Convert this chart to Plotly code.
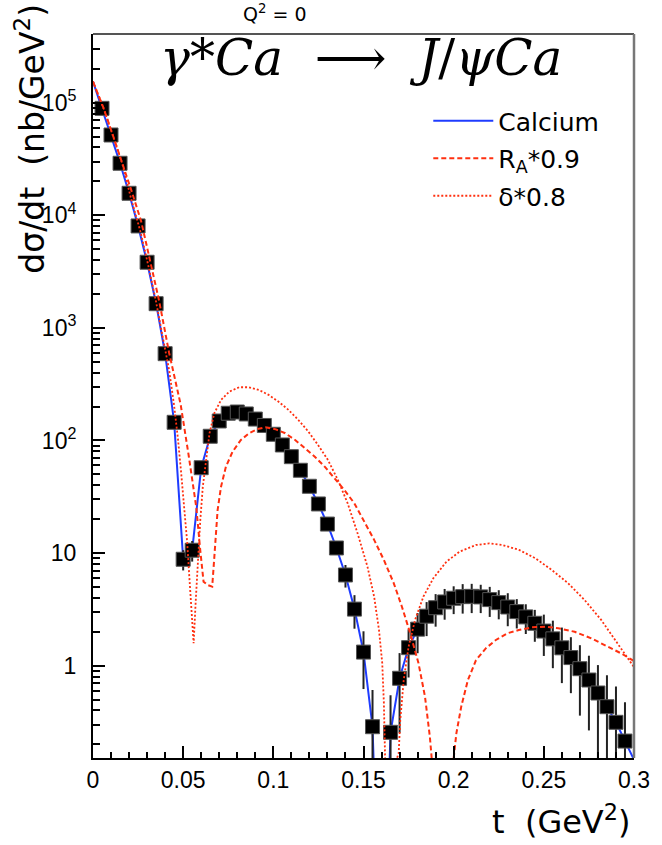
import plotly.graph_objects as go

# ---------------- data ----------------
t_data = [0.005, 0.010, 0.015, 0.020, 0.025, 0.030, 0.035, 0.040, 0.045, 0.050,
          0.055, 0.060, 0.065, 0.070, 0.075, 0.080, 0.085, 0.090, 0.095, 0.100,
          0.105, 0.110, 0.115, 0.120, 0.125, 0.130, 0.135, 0.140, 0.145, 0.150,
          0.155, 0.165, 0.170, 0.175, 0.180, 0.185, 0.190, 0.195, 0.200, 0.205,
          0.210, 0.215, 0.220, 0.225, 0.230, 0.235, 0.240, 0.245, 0.250, 0.255,
          0.260, 0.265, 0.270, 0.275, 0.280, 0.285, 0.290, 0.295]
sigma_data = [89100, 51650, 28960, 15680, 8040, 3826, 1640, 590, 145, 8.81,
              10.6, 57.3, 109, 149, 174.5, 179, 172, 155, 136, 113.5,
              91.2, 71.8, 54.4, 39.2, 27.3, 18.1, 11.1, 6.39, 3.18, 1.32,
              0.287, 0.256, 0.773, 1.445, 2.11, 2.75, 3.27, 3.68, 3.97, 4.10,
              4.13, 4.08, 3.86, 3.63, 3.32, 3.02, 2.71, 2.38, 2.03, 1.73,
              1.44, 1.18, 0.94, 0.746, 0.572, 0.432, 0.314, 0.214]
sigma_err = [900, 520, 290, 160, 80, 38, 16, 6, 2, 1.8,
             2.2, 3, 4, 4, 4, 4, 4, 3.5, 3.5, 3,
             3, 2.5, 2.2, 2, 1.6, 1.4, 1.4, 1.45, 1.05, 0.7,
             0.32, 0.29, 0.52, 0.66, 0.82, 0.92, 1.05, 1.12, 1.1, 1.2,
             1.2, 1.15, 1.15, 1.05, 1.08, 0.88, 0.8, 0.75, 0.81, 0.78,
             0.74, 0.61, 0.58, 0.48, 0.44, 0.39, 0.34, 0.26]

# Calcium curve: passes through the points, plus start, dip and end values
calcium_start = (0.0, 1.54e5)
calcium_dip = (0.160, 0.001)
calcium_end = (0.300, 0.146)
n_first = 31
calcium_t = [calcium_start[0]] + t_data[:n_first] + [calcium_dip[0]] + t_data[n_first:] + [calcium_end[0]]
calcium_val = [calcium_start[1]] + sigma_data[:n_first] + [calcium_dip[1]] + sigma_data[n_first:] + [calcium_end[1]]

# R_A * 0.9 curve
ra_t = [0.0, 0.0059, 0.0108, 0.0163, 0.0217, 0.0268, 0.0319, 0.0367, 0.0422, 0.0486,
        0.0531, 0.0573, 0.0594, 0.0613, 0.0635, 0.0661, 0.0673, 0.0691, 0.0710, 0.0737,
        0.0774, 0.0820, 0.0865, 0.0910, 0.0956, 0.1011, 0.1066, 0.1121, 0.1175, 0.1230,
        0.1285, 0.1340, 0.1394, 0.1449, 0.1504, 0.1559, 0.1613, 0.1668, 0.1713, 0.1759,
        0.1805, 0.1841, 0.1868, 0.1878, 0.1940, 0.2000, 0.2015, 0.2042, 0.2079, 0.2124,
        0.2179, 0.2234, 0.2298, 0.2361, 0.2434, 0.2507, 0.2580, 0.2671, 0.2763, 0.2854,
        0.2927, 0.3000]
ra_val = [1.54e5, 89100, 52600, 28900, 15880, 8730, 3756, 1730, 602, 209,
          72.8, 25.3, 10.9, 5.57, 5.21, 5.03, 9.29, 24.1, 38.9, 58.5,
          79.5, 101, 116, 126, 131, 126, 116, 101, 85.3, 71.8,
          58.5, 46.1, 36.3, 27.7, 19.0, 13.1, 8.69, 5.39, 3.34, 1.94,
          1.05, 0.531, 0.234, 0.151, 0.001, 0.151, 0.251, 0.433, 0.746, 1.12,
          1.43, 1.69, 1.94, 2.07, 2.19, 2.22, 2.15, 2.00, 1.75, 1.47,
          1.29, 1.10]

# delta * 0.8 curve
delta_t = [0.0, 0.0059, 0.0108, 0.0163, 0.0210, 0.0264, 0.0308, 0.0349, 0.0385, 0.0422,
           0.0449, 0.0471, 0.0489, 0.0507, 0.0522, 0.0534, 0.0545, 0.0558, 0.0569, 0.0582,
           0.0595, 0.0609, 0.0628, 0.0646, 0.0673, 0.0710, 0.0755, 0.0810, 0.0865, 0.0920,
           0.0974, 0.1029, 0.1084, 0.1139, 0.1194, 0.1248, 0.1303, 0.1358, 0.1412, 0.1467,
           0.1522, 0.1559, 0.1586, 0.1604, 0.1613, 0.1622, 0.1650, 0.1686, 0.1695, 0.1704,
           0.1723, 0.1750, 0.1786, 0.1832, 0.1887, 0.1960, 0.2033, 0.2124, 0.2197, 0.2270,
           0.2361, 0.2453, 0.2544, 0.2635, 0.2726, 0.2818, 0.2909, 0.3000]
delta_val = [1.54e5, 88700, 52200, 28500, 14300, 7080, 3500, 1730, 855, 424,
             209, 104, 51.3, 25.4, 12.6, 6.2, 3.07, 1.58, 3.58, 9.29,
             19.7, 38.9, 71.8, 116, 175, 229, 271, 297, 297, 281,
             254, 221, 187, 152, 120, 91.2, 67.1, 44.6, 27.7, 15.0,
             7.57, 4.10, 2.07, 1.05, 0.464, 0.151, 0.001, 0.151, 0.167, 0.330,
             0.746, 1.47, 2.55, 4.10, 5.97, 8.39, 10.3, 11.8, 12.2, 11.8,
             10.7, 8.99, 7.08, 5.39, 3.83, 2.55, 1.58, 0.97]

y_tickvals = [1, 10, 100, 1000, 10000, 100000]
y_ticktext = ["1", "10", "10<sup>2</sup>", "10<sup>3</sup>", "10<sup>4</sup>", "10<sup>5</sup>"]
y_minor = [m * 10.0 ** k for k in range(-1, 6) for m in range(2, 10)]

BLUE = "#1f3cff"
RED = "#ff3010"

fig = go.Figure()
fig.add_trace(go.Scatter(x=calcium_t, y=calcium_val, mode="lines", name="Calcium",
                         line=dict(color=BLUE, width=2), legendgroup="a"))
fig.add_trace(go.Scatter(x=t_data, y=sigma_data, mode="markers", showlegend=False,
                         marker=dict(symbol="square", size=14, color="black",
                                     line=dict(color="#555555", width=1)),
                         error_y=dict(type="data", array=sigma_err, color="#222222",
                                      thickness=2, width=0)))
fig.add_trace(go.Scatter(x=ra_t, y=ra_val, mode="lines", name="R<sub>A</sub>*0.9",
                         line=dict(color=RED, width=2, dash="5px,3px"), legendgroup="b"))
fig.add_trace(go.Scatter(x=delta_t, y=delta_val, mode="lines", name="δ*0.8",
                         line=dict(color=RED, width=1.8, dash="2px,2px"), legendgroup="c"))

W, H = 662, 845
L, R, T, B = 93, 22, 34, 87
pw, ph = W - L - R, H - T - B


def px_x(p):
    return (p - L) / pw


def px_y(p):
    return (H - B - p) / ph


fig.update_layout(
    width=W, height=H,
    margin=dict(l=L, r=R, t=T, b=B),
    paper_bgcolor="white", plot_bgcolor="white",
    showlegend=True,
    legend=dict(x=px_x(432), y=px_y(98), xanchor="left", yanchor="top",
                bgcolor="rgba(0,0,0,0)", font=dict(family="DejaVu Sans", size=25, color="black"),
                itemwidth=60, tracegroupgap=2),
    xaxis=dict(range=[0, 0.3], tick0=0, dtick=0.05, ticks="inside", ticklen=12,
               tickwidth=1.5, tickcolor="black", showgrid=False, zeroline=False,
               showline=True, linecolor="black", linewidth=2,
               tickfont=dict(family="Liberation Sans", size=23, color="black"),
               minor=dict(dtick=0.01, ticks="inside", ticklen=6, tickwidth=1.5, tickcolor="black")),
    yaxis=dict(type="log", range=[-0.82, 5.61], tickmode="array", tickvals=y_tickvals,
               ticktext=y_ticktext, ticks="inside", ticklen=12, tickwidth=1.5,
               tickcolor="black", showgrid=False, zeroline=False,
               showline=True, linecolor="black", linewidth=2, ticklabelstandoff=10,
               tickfont=dict(family="Liberation Sans", size=23, color="black"),
               minor=dict(tickmode="array", tickvals=y_minor, ticks="inside", ticklen=7,
                          tickwidth=1.5, tickcolor="black")),
    shapes=[
        dict(type="line", xref="paper", yref="paper", x0=0, x1=1, y0=1, y1=1,
             line=dict(color="#555555", width=2)),
        dict(type="line", xref="paper", yref="paper", x0=1, x1=1, y0=0, y1=1,
             line=dict(color="#777777", width=2.5)),
    ],
    annotations=[
        dict(text="<i>γ*Ca</i>&nbsp;&nbsp;⟶&nbsp;&nbsp;<i>J</i>/<i>ψCa</i>",
             xref="paper", yref="paper", x=px_x(364), y=px_y(27), xanchor="center",
             yanchor="top", showarrow=False,
             font=dict(family="DejaVu Serif", size=50, color="black")),
        dict(text="Q<sup>2</sup> = 0", xref="paper", yref="paper", x=px_x(277), y=px_y(27),
             xanchor="center", yanchor="bottom", showarrow=False,
             font=dict(family="DejaVu Sans", size=19, color="black")),
        dict(text="dσ/dt  (nb/GeV<sup>2</sup>)", xref="paper", yref="paper",
             x=px_x(30), y=px_y(2), xanchor="center", yanchor="top", textangle=-90,
             showarrow=False, font=dict(family="DejaVu Sans", size=33, color="black")),
        dict(text="t  (GeV<sup>2</sup>)", xref="paper", yref="paper",
             x=px_x(638), y=px_y(843), xanchor="right", yanchor="bottom",
             showarrow=False, font=dict(family="DejaVu Sans", size=32, color="black")),
    ],
)

fig.write_html("out.html")
